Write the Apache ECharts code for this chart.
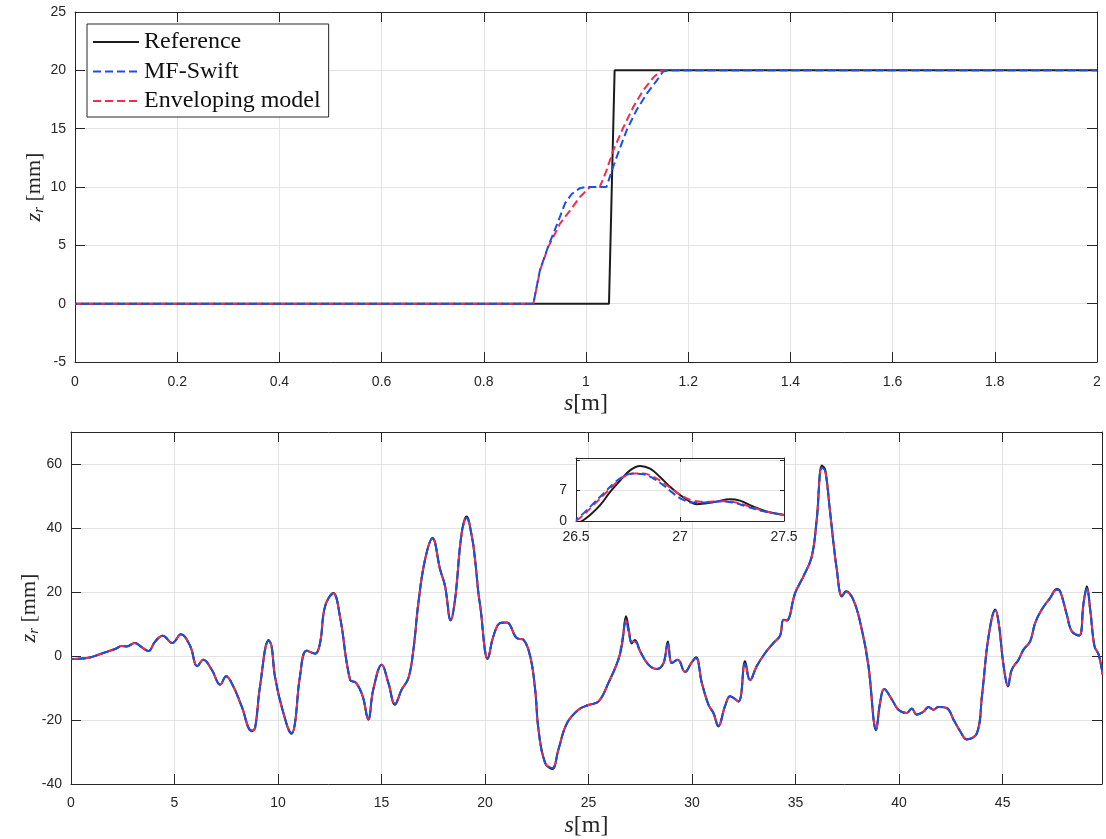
<!DOCTYPE html>
<html>
<head>
<meta charset="utf-8">
<script src="https://cdn.jsdelivr.net/npm/echarts@6/dist/echarts.min.js"></script>
<style>
  html, body { margin: 0; padding: 0; background: #ffffff; }
  #chart { width: 1106px; height: 839px; }
</style>
</head>
<body>
<div id="chart"></div>
<script>
// ---- Step obstacle response (upper panel), s in m, z_r in mm ----
const stepRefS = [0, 1.045, 1.056, 2];
const stepRefZ = [0, 0, 20, 20];
const stepMfSwiftS = [0, 0.897, 0.910, 0.926, 0.946, 0.959, 0.972, 0.988, 1.000, 1.040, 1.053, 1.067, 1.080, 1.099, 1.119, 1.138, 1.151, 1.160, 2];
const stepMfSwiftZ = [0, 0, 2.9, 4.9, 7.1, 8.6, 9.4, 9.9, 10, 10, 11.7, 13.4, 14.9, 16.6, 18.0, 19.1, 19.9, 20, 20];
const stepEnvS = [0, 0.897, 0.910, 0.926, 0.936, 0.949, 0.969, 0.988, 1.008, 1.027, 1.040, 1.053, 1.073, 1.093, 1.112, 1.132, 1.145, 1.152, 2];
const stepEnvZ = [0, 0, 2.85, 4.85, 5.7, 6.86, 8.0, 9.14, 10, 10, 11.4, 13.1, 15.1, 16.9, 18.3, 19.4, 19.9, 20, 20];

// ---- Road profile response (lower panel) ----
const roadS = [0, 0.68, 1.0, 1.32, 1.80, 2.13, 2.45, 2.69, 3.09, 3.41,
  3.74, 4.06, 4.43, 4.89, 5.31, 5.75, 6.10, 6.39, 6.80, 7.21,
  7.49, 7.84, 8.24, 8.73, 8.89, 9.13, 9.55, 9.69, 9.85, 10.26,
  10.66, 10.82, 11.06, 11.38, 11.79, 12.03, 12.27, 12.67, 12.99, 13.48,
  13.77, 14.09, 14.36, 14.60, 15.01, 15.33, 15.65, 15.97, 16.30, 16.54,
  16.78, 17.10, 17.46, 17.83, 18.07, 18.34, 18.55, 18.87, 19.11, 19.36,
  19.52, 19.68, 19.76, 20.13, 20.40, 20.73, 21.05, 21.53, 21.85, 22.18,
  22.42, 22.58, 22.90, 23.25, 23.54, 23.95, 24.51, 24.99, 25.48, 25.96,
  26.44, 26.62, 26.81, 26.95, 27.08, 27.24, 27.49, 27.89, 28.30, 28.62,
  28.83, 29.02, 29.31, 29.66, 29.98, 30.19, 30.47, 30.79, 31.03, 31.27,
  31.59, 31.84, 32.24, 32.56, 32.80, 33.12, 33.53, 33.93, 34.25, 34.41,
  34.57, 34.98, 35.38, 35.78, 36.02, 36.27, 36.43, 36.67, 36.99, 37.24,
  37.43, 37.80, 38.20, 38.52, 38.89, 39.08, 39.28, 39.65, 39.97, 40.37,
  40.61, 40.85, 41.18, 41.42, 41.66, 41.90, 42.30, 42.63, 42.95, 43.27,
  43.76, 44.00, 44.32, 44.65, 44.81, 45.05, 45.26, 45.44, 45.77, 46.01,
  46.33, 46.57, 46.89, 47.29, 47.62, 47.78, 48.10, 48.34, 48.70, 48.91,
  49.07, 49.23, 49.44, 49.64, 49.83];
const roadRefZ = [-0.94, -0.7, -0.3, 0.4, 1.46, 2.2, 3.1, 3.0, 4.06, 2.8,
  1.56, 4.5, 6.35, 4.06, 6.77, 3.2, -3.2, -1.15, -4.3, -8.96,
  -6.35, -9.5, -15.7, -23.5, -22.5, -9.5, 5.0, 3.0, -6.35, -17.8,
  -24.3, -20.9, -6.35, 1.67, 0.73, 4.06, 15.5, 19.7, 12.4, -7.4,
  -8.4, -12.6, -19.9, -10.5, -2.7, -8.4, -15.2, -10.5, -6.9, 2.0,
  16.6, 30.1, 36.9, 27.0, 21.8, 11.1, 17.6, 38.4, 43.6, 37.4,
  30.0, 19.5, 16.0, -0.94, 6.1, 10.3, 10.5, 5.6, 5.1, -0.1,
  -10.5, -23.0, -33.4, -35.3, -29.3, -21.1, -16.8, -15.3, -14.2, -8.4,
  -1.15, 3.7, 12.4, 8.0, 3.9, 5.0, 1.5, -2.7, -4.06, -2.2,
  4.5, -2.2, -1.15, -5.0, -2.0, -0.4, -8.4, -15.2, -17.8, -22.0,
  -15.7, -12.6, -14.2, -1.67, -7.6, -3.2, 0.94, 4.06, 6.35, 11.35,
  11.1, 19.7, 24.9, 31.1, 42.6, 59.5, 58.2, 44.7, 27.0, 18.6,
  20.2, 17.4, 8.2, -3.2, -23.2, -14.7, -10.3, -13.6, -16.8, -17.8,
  -16.4, -18.3, -17.4, -15.9, -16.8, -15.9, -16.25, -19.9, -23.5, -26.1,
  -24.1, -12.6, 6.1, 14.5, 10.3, -3.2, -9.5, -4.3, -1.15, 2.0,
  4.6, 10.3, 14.5, 18.1, 20.9, 20.2, 12.9, 7.7, 6.35, 16.6,
  21.8, 14.5, 3.0, 0.4, -5.8];
const roadMfSwiftZ = [-0.94, -0.7, -0.3, 0.4, 1.46, 2.2, 3.1, 3.0, 4.06, 2.8,
  1.56, 4.5, 6.35, 4.06, 6.77, 3.2, -3.2, -1.15, -4.3, -8.96,
  -6.35, -9.5, -15.7, -23.3, -22.5, -9.5, 4.8, 3.0, -6.35, -17.8,
  -24.1, -20.9, -6.35, 1.67, 0.73, 4.06, 15.5, 19.5, 12.4, -7.4,
  -8.4, -12.6, -19.7, -10.5, -2.7, -8.4, -15.0, -10.5, -6.9, 2.0,
  16.6, 30.1, 36.7, 27.0, 21.8, 11.3, 17.6, 38.4, 43.2, 37.4,
  30.0, 19.5, 16.0, -0.8, 6.1, 10.3, 10.5, 5.6, 5.1, -0.1,
  -10.5, -23.0, -33.4, -35.0, -29.3, -21.1, -16.8, -15.3, -14.2, -8.4,
  -1.0, 4.8, 10.9, 7.0, 4.2, 4.6, 1.5, -2.7, -4.06, -2.2,
  3.8, -2.2, -1.15, -5.0, -2.0, -0.6, -8.4, -15.2, -17.8, -21.8,
  -15.7, -12.6, -14.2, -2.4, -7.6, -3.2, 0.94, 4.06, 6.35, 11.2,
  11.1, 19.7, 24.9, 31.1, 42.6, 58.8, 57.8, 44.7, 27.0, 18.8,
  20.0, 17.4, 8.2, -3.2, -22.9, -14.7, -10.3, -13.6, -16.8, -17.8,
  -16.4, -18.3, -17.4, -15.9, -16.8, -15.9, -16.25, -19.9, -23.5, -26.0,
  -24.1, -12.6, 6.1, 14.2, 10.3, -3.2, -9.3, -4.3, -1.15, 2.0,
  4.6, 10.3, 14.5, 18.1, 20.7, 20.2, 12.9, 7.7, 6.5, 16.6,
  21.0, 14.5, 3.0, 0.4, -5.8];
const roadEnvZ = [-0.94, -0.7, -0.3, 0.4, 1.46, 2.2, 3.1, 3.0, 4.06, 2.8,
  1.56, 4.5, 6.35, 4.06, 6.77, 3.2, -3.2, -1.15, -4.3, -8.96,
  -6.35, -9.5, -15.7, -23.3, -22.5, -9.5, 4.8, 3.0, -6.35, -17.8,
  -24.1, -20.9, -6.35, 1.67, 0.73, 4.06, 15.5, 19.5, 12.4, -7.4,
  -8.4, -12.6, -19.7, -10.5, -2.7, -8.4, -15.0, -10.5, -6.9, 2.0,
  16.6, 30.1, 36.7, 27.0, 21.8, 11.3, 17.6, 38.4, 43.2, 37.4,
  30.0, 19.5, 16.0, -0.8, 6.1, 10.3, 10.5, 5.6, 5.1, -0.1,
  -10.5, -23.0, -33.4, -35.0, -29.3, -21.1, -16.8, -15.3, -14.2, -8.4,
  -1.1, 4.2, 10.9, 7.5, 4.6, 4.5, 1.4, -2.7, -4.06, -2.2,
  3.8, -2.2, -1.15, -5.0, -2.0, -0.6, -8.4, -15.2, -17.8, -21.8,
  -15.7, -12.6, -14.2, -2.4, -7.6, -3.2, 0.94, 4.06, 6.35, 11.2,
  11.1, 19.7, 24.9, 31.1, 42.6, 58.8, 57.8, 44.7, 27.0, 18.8,
  20.0, 17.4, 8.2, -3.2, -22.9, -14.7, -10.3, -13.6, -16.8, -17.8,
  -16.4, -18.3, -17.4, -15.9, -16.8, -15.9, -16.25, -19.9, -23.5, -26.0,
  -24.1, -12.6, 6.1, 14.2, 10.3, -3.2, -9.3, -4.3, -1.15, 2.0,
  4.6, 10.3, 14.5, 18.1, 20.7, 20.2, 12.9, 7.7, 6.5, 16.6,
  21.0, 14.5, 3.0, 0.4, -5.8];

// ---- Close-up of the bump at s = 26.5 .. 27.5 m ----
const zoomRefS = [26.5, 26.529, 26.569, 26.617, 26.665, 26.713, 26.76, 26.808, 26.856, 26.904, 26.952, 27.0, 27.048, 27.08, 27.128, 27.176, 27.24, 27.288, 27.351, 27.416, 27.495, 27.5];
const zoomRefZ = [-0.5, 0, 1.42, 3.68, 6.69, 9.32, 11.58, 12.56, 11.96, 10.07, 7.82, 5.93, 4.43, 3.83, 4.06, 4.43, 4.95, 4.66, 3.31, 2.18, 1.43, 1.4];
const zoomModelS = [26.5, 26.537, 26.585, 26.633, 26.681, 26.728, 26.776, 26.824, 26.872, 26.92, 26.968, 27.016, 27.064, 27.128, 27.192, 27.256, 27.32, 27.384, 27.448, 27.5];
const zoomMfSwiftZ = [0.3, 1.8, 4.06, 6.32, 8.58, 10.23, 10.83, 10.68, 9.7, 8.2, 6.32, 4.81, 4.21, 4.21, 4.51, 4.21, 3.31, 2.4, 1.8, 1.4];
const zoomEnvZ = [0.0, 1.42, 3.68, 5.93, 8.2, 10.07, 10.83, 10.83, 10.07, 8.73, 7.07, 5.57, 4.66, 4.36, 4.51, 4.36, 3.53, 2.56, 1.8, 1.35];
const zoomYTicks = [0, 7];

const seriesNames = ['Reference', 'MF-Swift', 'Enveloping model'];

const SANS = 'Liberation Sans, Arial, Helvetica, sans-serif';
const SERIF = 'Liberation Serif, Times New Roman, serif';
const INK = '#262626';
const GRIDLINE = '#e3e3e3';
const COLOR_REF = '#1c1c1c';
const COLOR_MF = '#1f4fe0';
const COLOR_ENV = '#f52a50';

function zip(xs, ys) { return xs.map((x, i) => [x, ys[i]]); }

// Primary axis with labels and grid lines
function mainAxis(gridIndex, position, min, max, interval, extra) {
  return Object.assign({
    type: 'value', gridIndex, position, min, max, interval,
    nameMoveOverlap: false,
    axisLine: { show: true, onZero: false, lineStyle: { color: INK, width: 1 } },
    axisTick: { show: true, inside: true, length: 10, lineStyle: { color: INK, width: 1 } },
    axisLabel: { show: true, margin: 10, fontSize: 14, color: INK, fontFamily: SANS },
    splitLine: { show: true, lineStyle: { color: GRIDLINE, width: 1 } }
  }, extra || {});
}
// Mirror axis that closes the box on the opposite side
function boxAxis(gridIndex, position, min, max, interval, tickLen) {
  return {
    type: 'value', gridIndex, position, min, max, interval,
    axisLine: { show: true, onZero: false, lineStyle: { color: INK, width: 1 } },
    axisTick: { show: true, inside: true, length: tickLen, lineStyle: { color: INK, width: 1 } },
    axisLabel: { show: false },
    splitLine: { show: false }
  };
}

const xName = {
  name: '{i|s}{n|[m]}',
  nameLocation: 'middle',
  nameTextStyle: {
    rich: {
      i: { fontFamily: SERIF, fontStyle: 'italic', fontSize: 24, color: INK },
      n: { fontFamily: SERIF, fontSize: 24, color: INK }
    }
  }
};
const yName = {
  name: '{i|z}{s|r}{n| [mm]}',
  nameLocation: 'middle',
  nameTextStyle: {
    rich: {
      i: { fontFamily: SERIF, fontStyle: 'italic', fontSize: 22, color: INK, lineHeight: 30 },
      s: { fontFamily: SERIF, fontStyle: 'italic', fontSize: 15, color: INK, lineHeight: 30, verticalAlign: 'bottom', padding: [0, 0, 2, 0] },
      n: { fontFamily: SERIF, fontSize: 22, color: INK, lineHeight: 30 }
    }
  }
};

function lineSeries(name, xi, yi, data, smooth, z, dashShift) {
  const base = { type: 'line', name, xAxisIndex: xi, yAxisIndex: yi, data, symbol: 'none', showSymbol: false, smooth, z, silent: true };
  if (name === 'Reference') {
    base.lineStyle = { color: COLOR_REF, width: 2 };
    base.itemStyle = { color: COLOR_REF };
  } else if (name === 'MF-Swift') {
    base.lineStyle = { color: COLOR_MF, width: 2, type: [8, 4], dashOffset: dashShift || 0 };
    base.itemStyle = { color: COLOR_MF };
  } else {
    base.lineStyle = { color: COLOR_ENV, width: 2, type: [8, 4] };
    base.itemStyle = { color: COLOR_ENV };
  }
  return base;
}

const chart = echarts.init(document.getElementById('chart'), null, { renderer: 'canvas' });

const gridBase = { containLabel: false, outerBoundsMode: 'none' };

const option = {
  animation: false,
  backgroundColor: '#ffffff',
  grid: [
    Object.assign({ left: 75, right: 9, top: 12, height: 350 }, gridBase),
    Object.assign({ left: 71, right: 4, top: 432, height: 352 }, gridBase),
    Object.assign({ left: 576, width: 208, top: 458, height: 63, show: true, backgroundColor: '#ffffff', borderWidth: 0, z: 5 }, gridBase)
  ],
  legend: {
    data: seriesNames,
    orient: 'vertical',
    left: 87, top: 24,
    itemWidth: 46, itemHeight: 24, itemGap: 5.5,
    padding: [6, 8, 4, 5],
    backgroundColor: '#ffffff',
    borderColor: INK, borderWidth: 1, borderRadius: 0,
    itemStyle: { opacity: 0 },
    lineStyle: { dashOffset: 0 },
    textStyle: { fontFamily: SERIF, fontSize: 24, color: '#111111', lineHeight: 24 },
    z: 20
  },
  xAxis: [
    mainAxis(0, 'bottom', 0, 2, 0.2, Object.assign({ nameGap: 30 }, xName, {
      axisLabel: { show: true, margin: 13, fontSize: 14, color: INK, fontFamily: SANS }
    })),
    boxAxis(0, 'top', 0, 2, 0.2, 10),
    mainAxis(1, 'bottom', 0, 49.8, 5, Object.assign({ nameGap: 30 }, xName, {
      axisLabel: { show: true, margin: 12, fontSize: 14, color: INK, fontFamily: SANS, showMaxLabel: false }
    })),
    boxAxis(1, 'top', 0, 49.8, 5, 10),
    mainAxis(2, 'bottom', 26.5, 27.5, 0.5, {
      z: 6,
      axisTick: { show: true, inside: true, length: 4, lineStyle: { color: INK, width: 1 } },
      axisLabel: { show: true, margin: 9, fontSize: 14, color: INK, fontFamily: SANS }
    }),
    Object.assign(boxAxis(2, 'top', 26.5, 27.5, 0.5, 4), { z: 6 })
  ],
  yAxis: [
    mainAxis(0, 'left', -5, 25, 5, Object.assign({ nameGap: 26 }, yName, {
      axisLabel: { show: true, margin: 9, fontSize: 14, color: INK, fontFamily: SANS }
    })),
    boxAxis(0, 'right', -5, 25, 5, 10),
    mainAxis(1, 'left', -40, 70, 20, Object.assign({ nameGap: 27 }, yName, {
      axisLabel: { show: true, margin: 9, fontSize: 14, color: INK, fontFamily: SANS, showMaxLabel: false }
    })),
    boxAxis(1, 'right', -40, 70, 20, 10),
    mainAxis(2, 'left', 0, 14.4, 7, {
      z: 6,
      axisTick: { show: true, inside: true, length: 4, lineStyle: { color: INK, width: 1 } },
      axisLabel: {
        show: true, margin: 9, fontSize: 14, color: INK, fontFamily: SANS,
        formatter: (v) => (zoomYTicks.indexOf(v) >= 0 ? String(v) : '')
      },
      splitLine: { show: true, lineStyle: { color: GRIDLINE, width: 1 } }
    }),
    Object.assign(boxAxis(2, 'right', 0, 14.4, 7, 4), { z: 6 })
  ],
  series: [
    lineSeries('Reference', 0, 0, zip(stepRefS, stepRefZ), false, 2),
    lineSeries('Enveloping model', 0, 0, zip(stepEnvS, stepEnvZ), false, 3),
    lineSeries('MF-Swift', 0, 0, zip(stepMfSwiftS, stepMfSwiftZ), false, 4, 6),

    lineSeries('Reference', 2, 2, zip(roadS, roadRefZ), 0.4, 2),
    lineSeries('Enveloping model', 2, 2, zip(roadS, roadEnvZ), 0.4, 3),
    lineSeries('MF-Swift', 2, 2, zip(roadS, roadMfSwiftZ), 0.4, 4, 5),

    lineSeries('Reference', 4, 4, zip(zoomRefS, zoomRefZ), 0.4, 12),
    lineSeries('Enveloping model', 4, 4, zip(zoomModelS, zoomEnvZ), 0.4, 13),
    lineSeries('MF-Swift', 4, 4, zip(zoomModelS, zoomMfSwiftZ), 0.4, 14, 5)
  ]
};

chart.setOption(option);
</script>
</body>
</html>
